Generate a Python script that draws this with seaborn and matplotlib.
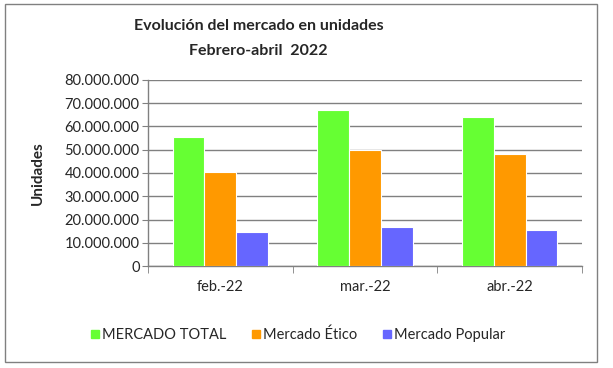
import pandas as pd
import numpy as np
import matplotlib.pyplot as plt
import matplotlib.ticker as mticker
from matplotlib.patches import Rectangle
import seaborn as sns

months = ['feb.-22', 'mar.-22', 'abr.-22']
series = ['MERCADO TOTAL', 'Mercado Ético', 'Mercado Popular']
total = [55500000, 67100000, 64100000]
etico = [40500000, 49900000, 48200000]
popular = [14700000, 16800000, 15500000]
colors = ['#66FF33', '#FF9900', '#6666FF']

df = pd.DataFrame({
    'mes': months * 3,
    'serie': [series[0]] * 3 + [series[1]] * 3 + [series[2]] * 3,
    'valor': total + etico + popular,
})

sns.set_style('white')
plt.rcParams['font.family'] = ['Lato', 'DejaVu Sans']

fig = plt.figure(figsize=(6.13, 3.68), dpi=100)
ax = fig.add_axes([0.2414, 0.277, 0.708, 0.506])

sns.barplot(data=df, x='mes', y='valor', hue='serie', palette=colors, saturation=1,
            width=0.66, edgecolor='white', linewidth=0.8, ax=ax, zorder=3)

ax.set_ylim(0, 80000000)
ax.set_xlim(-0.5, 2.5)
ax.yaxis.set_major_locator(mticker.MultipleLocator(10000000))
ax.yaxis.set_major_formatter(mticker.FuncFormatter(lambda v, p: f'{int(v):,}'.replace(',', '.')))
ax.grid(axis='y', color='#808080', linewidth=1, zorder=0)
ax.set_axisbelow(True)

for s in ['top', 'right']:
    ax.spines[s].set_visible(False)
for s in ['left', 'bottom']:
    ax.spines[s].set_color('#808080')
    ax.spines[s].set_linewidth(1)

ax.tick_params(axis='y', which='major', length=4, color='#808080', direction='out',
               labelsize=10.5, pad=2, left=True)
ax.xaxis.set_minor_locator(mticker.FixedLocator([-0.5, 0.5, 1.5, 2.5]))
ax.tick_params(axis='x', which='major', length=0, labelsize=10.5, pad=10)
ax.tick_params(axis='x', which='minor', length=5, color='#808080', direction='out', bottom=True)

ax.set_xlabel('')
ax.set_ylabel('Unidades', fontsize=11, fontweight='bold', labelpad=14)

fig.text(0.422, 0.928, 'Evolución del mercado en unidades', ha='center', va='center',
         fontsize=11.5, fontweight='bold')
fig.text(0.422, 0.862, 'Febrero-abril  2022', ha='center', va='center',
         fontsize=11.5, fontweight='bold')

ax.get_legend().remove()
handles = [plt.Line2D([], [], marker='s', linestyle='', markersize=6,
                      markerfacecolor=c, markeredgecolor=c) for c in colors]
fig.legend(handles, series, loc='center', bbox_to_anchor=(0.485, 0.09), ncol=3,
           frameon=False, fontsize=10.5, handletextpad=0.1, columnspacing=1.6,
           handlelength=0.8)

fig.patches.append(Rectangle((0.008, 0.016), 0.966, 0.973, transform=fig.transFigure,
                             fill=False, edgecolor='#808080', linewidth=1))

fig.savefig('out.png', dpi=100)
